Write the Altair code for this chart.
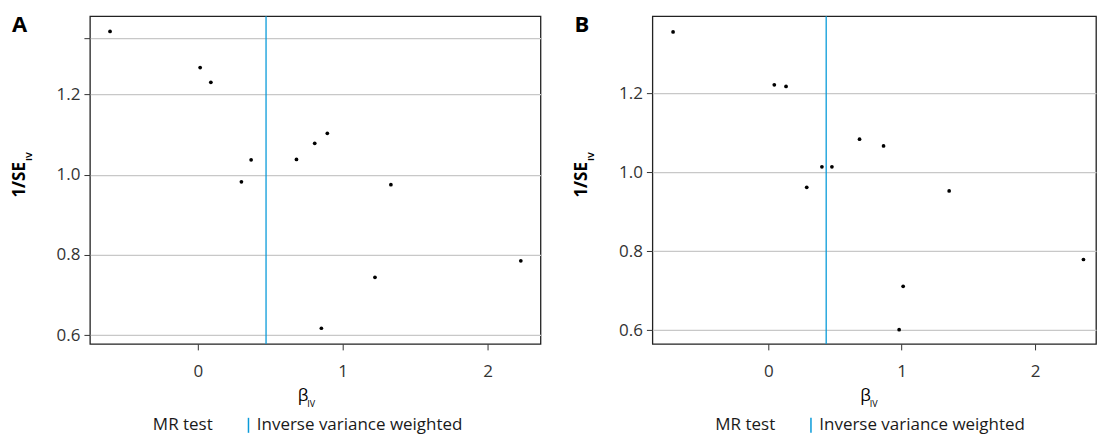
import altair as alt
import pandas as pd

FONT = "Open Sans"

# Panel A data
a_beta = [-0.606, 0.016, 0.090, 0.301, 0.368, 0.681, 0.807, 0.894, 1.333, 1.223, 0.853, 2.230]
a_inv_se = [1.357, 1.267, 1.230, 0.982, 1.037, 1.038, 1.078, 1.103, 0.975, 0.744, 0.617, 0.785]
a_ivw = [0.471]
a_xdomain = [-0.745, 2.366]
a_ydomain = [0.578, 1.395]
a_yticks = [0.6, 0.8, 1.0, 1.2, 1.34]

# Panel B data
b_beta = [-0.714, 0.045, 0.133, 0.288, 0.402, 0.477, 0.684, 0.864, 1.356, 1.011, 0.981, 2.363]
b_inv_se = [1.356, 1.222, 1.218, 0.962, 1.014, 1.014, 1.084, 1.067, 0.953, 0.711, 0.601, 0.779]
b_ivw = [0.434]
b_xdomain = [-0.869, 2.457]
b_ydomain = [0.565, 1.396]
b_yticks = [0.6, 0.8, 1.0, 1.2]

x_ticks = [0, 1, 2]
panel_labels = ["A", "B"]
legend_title = "MR test"
legend_item = "Inverse variance weighted"

H = 328
BLUE = "#0a9bd9"


def txt(s, x, y, size, weight="normal", angle=0, align="left", color="#1a1a1a"):
    return alt.Chart(alt.Data(values=[{}])).mark_text(
        text=s, fontSize=size, fontWeight=weight, angle=angle, align=align,
        baseline="alphabetic", font=FONT, color=color
    ).encode(x=alt.value(x), y=alt.value(y))


def panel(label, betas, inv_se, ivw, xdom, ydom, yticks, width):
    df = pd.DataFrame({"beta": betas, "inv_se": inv_se})
    labelled = [v for v in yticks if v <= 1.2 + 1e-9]
    lab_expr = "(" + " || ".join(f"abs(datum.value - {v}) < 0.001" for v in labelled) + ") ? format(datum.value, '.1f') : ''"
    x = alt.X("beta:Q", scale=alt.Scale(domain=xdom, nice=False, zero=False),
              axis=alt.Axis(values=x_ticks, format="d", title=None, grid=False, domain=False,
                            tickSize=6, tickColor="#333", labelPadding=14,
                            labelFontSize=17, labelColor="#333", labelFont=FONT))
    y = alt.Y("inv_se:Q", scale=alt.Scale(domain=ydom, nice=False, zero=False),
              axis=alt.Axis(values=yticks, title=None, grid=True, gridColor="#c8c8c8",
                            gridWidth=1.2, domain=False, tickSize=6, tickColor="#333",
                            labelPadding=4, labelFontSize=17, labelColor="#333",
                            labelFont=FONT, labelExpr=lab_expr))
    pts = alt.Chart(df).mark_circle(size=14, color="black", opacity=1).encode(x=x, y=y)
    rule = alt.Chart(pd.DataFrame({"beta": ivw})).mark_rule(color=BLUE, strokeWidth=1.3).encode(x="beta:Q")
    layers = [
        rule, pts,
        txt(label, -78, 16, 22, weight="bold", color="black"),
        txt("1/SE", -65, 146, 17, weight="bold", angle=270, align="right", color="black"),
        txt("IV", -58, 145, 9, weight="bold", angle=270, align="left", color="black"),
        txt("β", 208, 385, 17, color="black"),
        txt("IV", 217.5, 391.5, 9, color="black"),
        txt(legend_title, 63, 414, 17),
        alt.Chart(alt.Data(values=[{}])).mark_rule(color=BLUE, strokeWidth=1.5).encode(
            x=alt.value(158.7), y=alt.value(402), y2=alt.value(417)),
        txt(legend_item, 167, 414, 17),
    ]
    return alt.layer(*layers).properties(width=width, height=H)


pa = panel(panel_labels[0], a_beta, a_inv_se, a_ivw, a_xdomain, a_ydomain, a_yticks, 451)
pb = panel(panel_labels[1], b_beta, b_inv_se, b_ivw, b_xdomain, b_ydomain, b_yticks, 444)

chart = alt.hconcat(pa, pb, spacing=112, bounds="flush").properties(
    padding={"left": 2, "top": 5, "right": 0, "bottom": 0},
    background="white",
).configure_view(stroke="#222", strokeWidth=1.3)

chart.save("out.html", embed_options={"renderer": "svg", "actions": False})
